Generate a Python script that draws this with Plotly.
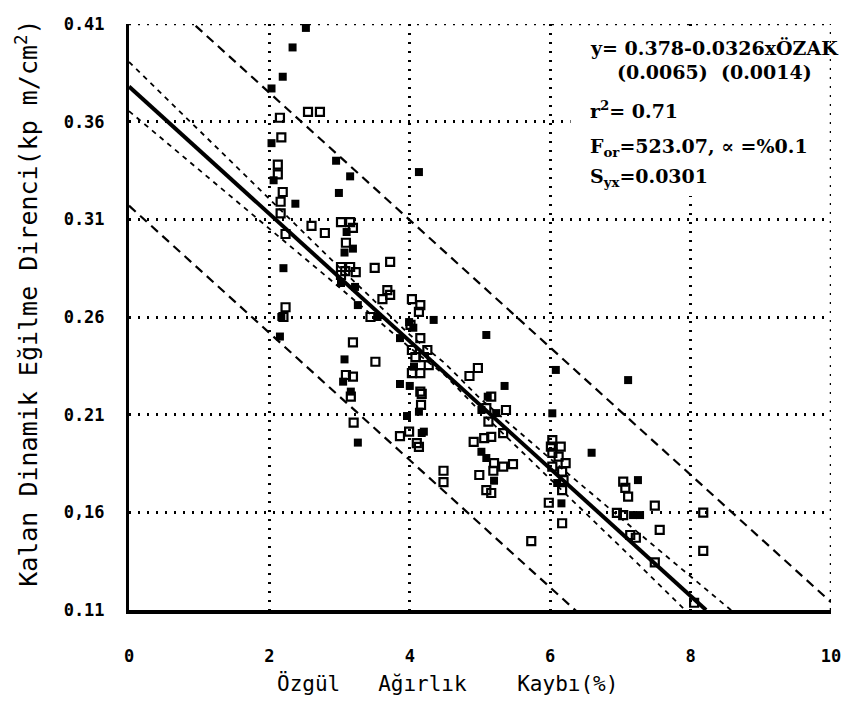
import plotly.graph_objects as go

# ---------------- data ----------------
open_x = [2.55, 2.72, 2.15, 2.17, 2.12, 2.12, 2.19, 2.16, 2.16, 2.23, 2.23, 2.20,
          2.60, 2.79, 3.02, 3.15, 3.19, 3.09, 3.02, 3.02, 3.15, 3.08, 3.23, 3.50, 3.72,
          3.68, 3.72, 3.61, 3.44, 3.19, 3.51, 3.09, 3.19, 3.16, 3.20,
          4.03, 4.15, 4.13, 4.01, 4.15, 4.03, 4.08, 4.25, 4.20, 4.27, 4.15, 4.03,
          4.15, 4.17, 4.16, 3.99, 3.86, 4.10, 4.13, 4.48, 4.48,
          4.85, 4.97, 5.16, 5.09, 5.37, 5.12, 5.33, 4.91, 5.06, 5.16, 5.20, 5.33, 5.47,
          5.19, 4.99, 5.09, 5.16, 5.73,
          6.03, 6.01, 6.15, 6.03, 6.12, 6.22, 6.03, 6.17, 6.17, 6.19, 5.98, 6.17,
          7.04, 7.07, 7.11, 7.49, 7.04, 7.56, 7.14, 7.22, 7.49, 8.05, 8.18, 8.18, 6.95]
open_y = [0.365, 0.365, 0.362, 0.352, 0.338, 0.333, 0.324, 0.319, 0.313, 0.3025, 0.265, 0.260,
          0.3066, 0.3030, 0.3086, 0.3086, 0.3056, 0.298, 0.2856, 0.2815, 0.2856, 0.2835, 0.283, 0.2851, 0.2882,
          0.2738, 0.2713, 0.2692, 0.2600, 0.247, 0.2371, 0.2303, 0.2295, 0.2192, 0.2059,
          0.2692, 0.2661, 0.2626, 0.2560, 0.2492, 0.2431, 0.2395, 0.2431, 0.2395, 0.2354, 0.2313, 0.2313,
          0.2218, 0.2206, 0.2150, 0.2013, 0.1990, 0.1954, 0.1935, 0.1813, 0.1755,
          0.2298, 0.2339, 0.2192, 0.2134, 0.2124, 0.2064, 0.2005, 0.1961, 0.1980, 0.1986, 0.1852, 0.1834, 0.1847,
          0.1813, 0.1791, 0.1714, 0.1699, 0.1453,
          0.1970, 0.1936, 0.1936, 0.1904, 0.1885, 0.1852, 0.1834, 0.1808, 0.1714, 0.1765, 0.1649, 0.1544,
          0.1757, 0.1725, 0.1680, 0.1634, 0.1586, 0.1510, 0.1484, 0.1470, 0.1344, 0.1137, 0.1598, 0.1403, 0.1597]

filled_x = [2.52, 2.33, 2.19, 2.03, 2.03, 2.06, 2.37, 2.20, 2.17, 2.15,
            2.95, 3.15, 2.99, 3.10, 3.19, 3.07, 3.02, 3.22, 3.26, 3.54, 3.07, 3.05, 3.16, 3.26,
            4.13, 3.99, 4.05, 4.34, 3.86, 4.06, 3.86, 4.00, 4.13, 3.96, 4.20, 4.17,
            5.09, 5.35, 5.11, 5.02, 5.23, 5.02, 5.09, 5.20,
            6.08, 6.03, 6.10, 6.59, 6.16, 7.11, 7.25, 7.18, 7.28]
filled_y = [0.408, 0.398, 0.383, 0.377, 0.349, 0.330, 0.318, 0.285, 0.260, 0.250,
            0.340, 0.332, 0.3235, 0.3035, 0.295, 0.293, 0.2774, 0.2754, 0.2661, 0.2600, 0.2383, 0.2269, 0.2218, 0.1957,
            0.3342, 0.2574, 0.2545, 0.2585, 0.2492, 0.2346, 0.2257, 0.2247, 0.2115, 0.2093, 0.2013, 0.2006,
            0.2508, 0.2247, 0.2192, 0.2124, 0.2108, 0.1910, 0.1878, 0.1762,
            0.2329, 0.2107, 0.1750, 0.1905, 0.1646, 0.2277, 0.1765, 0.1586, 0.1586]

# fitted line y = 0.378 - 0.0326 x (end points)
fit_x = [0.0, 8.22]
fit_y = [0.378, 0.110]

# confidence band of the mean
band_x = [0, 1, 2, 3, 4, 4.5, 5, 6, 7, 8, 8.6]
band_hi = [0.3906, 0.3554, 0.3202, 0.2853, 0.2509, 0.2363, 0.2183, 0.1875, 0.1572, 0.1272, 0.1092]
band_lo = [0.3654, 0.3354, 0.3054, 0.2751, 0.2443, 0.2303, 0.2117, 0.1773, 0.1424, 0.1072, 0.0860]

# prediction band
pred_x = [0.0, 10.0]
pred_hi = [0.440, 0.114]
pred_lo_x = [0.0, 6.6]
pred_lo = [0.317, 0.102]

x_ticks = [0, 2, 4, 6, 8, 10]
x_ticktext = ["0", "2", "4", "6", "8", "10"]
y_ticks = [0.11, 0.16, 0.21, 0.26, 0.31, 0.36, 0.41]
y_ticktext = ["0.11", "0,16", "0.21", "0.26", "0.31", "0.36", "0.41"]

stat_lines = ["y= 0.378-0.0326xÖZAK", "(0.0065)  (0.0014)", "r<sup>2</sup>= 0.71",
              "F<sub>or</sub>=523.07, ∝ =%0.1", "S<sub>yx</sub>=0.0301"]

x_title = "Özgül   Ağırlık    Kaybı(%)"
y_title = "Kalan Dinamik Eğilme Direnci(kp m/cm<sup>2</sup>)"

MONO = "DejaVu Sans Mono"

fig = go.Figure()

fig.add_trace(go.Scatter(x=pred_x, y=pred_hi, mode="lines",
                         line=dict(color="black", width=2.2, dash="9px,6px"), hoverinfo="skip"))
fig.add_trace(go.Scatter(x=pred_lo_x, y=pred_lo, mode="lines",
                         line=dict(color="black", width=2.2, dash="9px,6px"), hoverinfo="skip"))
fig.add_trace(go.Scatter(x=band_x, y=band_hi, mode="lines",
                         line=dict(color="black", width=1.8, dash="5px,5px"), hoverinfo="skip"))
fig.add_trace(go.Scatter(x=band_x, y=band_lo, mode="lines",
                         line=dict(color="black", width=1.8, dash="5px,5px"), hoverinfo="skip"))
fig.add_trace(go.Scatter(x=fit_x, y=fit_y, mode="lines",
                         line=dict(color="black", width=4), hoverinfo="skip"))
fig.add_trace(go.Scatter(x=open_x, y=open_y, mode="markers",
                         marker=dict(symbol="square-open", size=8, color="black",
                                     line=dict(width=2.2, color="black"))))
fig.add_trace(go.Scatter(x=filled_x, y=filled_y, mode="markers",
                         marker=dict(symbol="square", size=8, color="black")))

# white panel behind the statistics
fig.add_shape(type="rect", xref="x", yref="y", x0=6.29, x1=9.96, y0=0.322, y1=0.407,
              fillcolor="white", line=dict(width=0), layer="between")
# dotted top and right frame
fig.add_shape(type="line", xref="x", yref="y", x0=0, x1=10, y0=0.41, y1=0.41,
              line=dict(color="black", width=2.5, dash="2px,7px"))
fig.add_shape(type="line", xref="x", yref="y", x0=10, x1=10, y0=0.11, y1=0.41,
              line=dict(color="black", width=2.5, dash="2px,7px"))

stat_pos = [(6.54, 0.3977), (6.93, 0.3854), (6.54, 0.366), (6.54, 0.347), (6.54, 0.3312)]
for (sx, sy), txt in zip(stat_pos, stat_lines):
    fig.add_annotation(x=sx, y=sy, xref="x", yref="y", text=txt, showarrow=False,
                       xanchor="left", yanchor="middle",
                       font=dict(family="DejaVu Serif", size=19, color="black", weight="bold"))

fig.add_annotation(x=0.453, y=-0.1246, xref="paper", yref="paper", text=x_title,
                   showarrow=False, xanchor="center", yanchor="middle",
                   font=dict(family=MONO, size=21, color="black"))
fig.add_annotation(x=-0.144, y=0.524, xref="paper", yref="paper", text=y_title,
                   showarrow=False, xanchor="center", yanchor="middle", textangle=-90,
                   font=dict(family=MONO, size=25, color="black"))

fig.update_layout(
    width=853, height=702,
    margin=dict(l=129, r=15, t=24, b=92),
    paper_bgcolor="white", plot_bgcolor="white",
    showlegend=False,
    xaxis=dict(range=[0, 10], tickvals=x_ticks, ticktext=x_ticktext,
               showgrid=True, gridcolor="black", gridwidth=2.5, griddash="2px,7px",
               showline=True, linecolor="black", linewidth=4, zeroline=False,
               ticks="", ticklabelstandoff=28,
               tickfont=dict(family=MONO, size=17, color="black", weight="bold")),
    yaxis=dict(range=[0.11, 0.41], tickvals=y_ticks, ticktext=y_ticktext,
               showgrid=True, gridcolor="black", gridwidth=2.5, griddash="2px,7px",
               showline=True, linecolor="black", linewidth=3, zeroline=False,
               ticks="", ticklabelstandoff=18,
               tickfont=dict(family=MONO, size=17, color="black", weight="bold")),
)

fig.write_html("out.html")
